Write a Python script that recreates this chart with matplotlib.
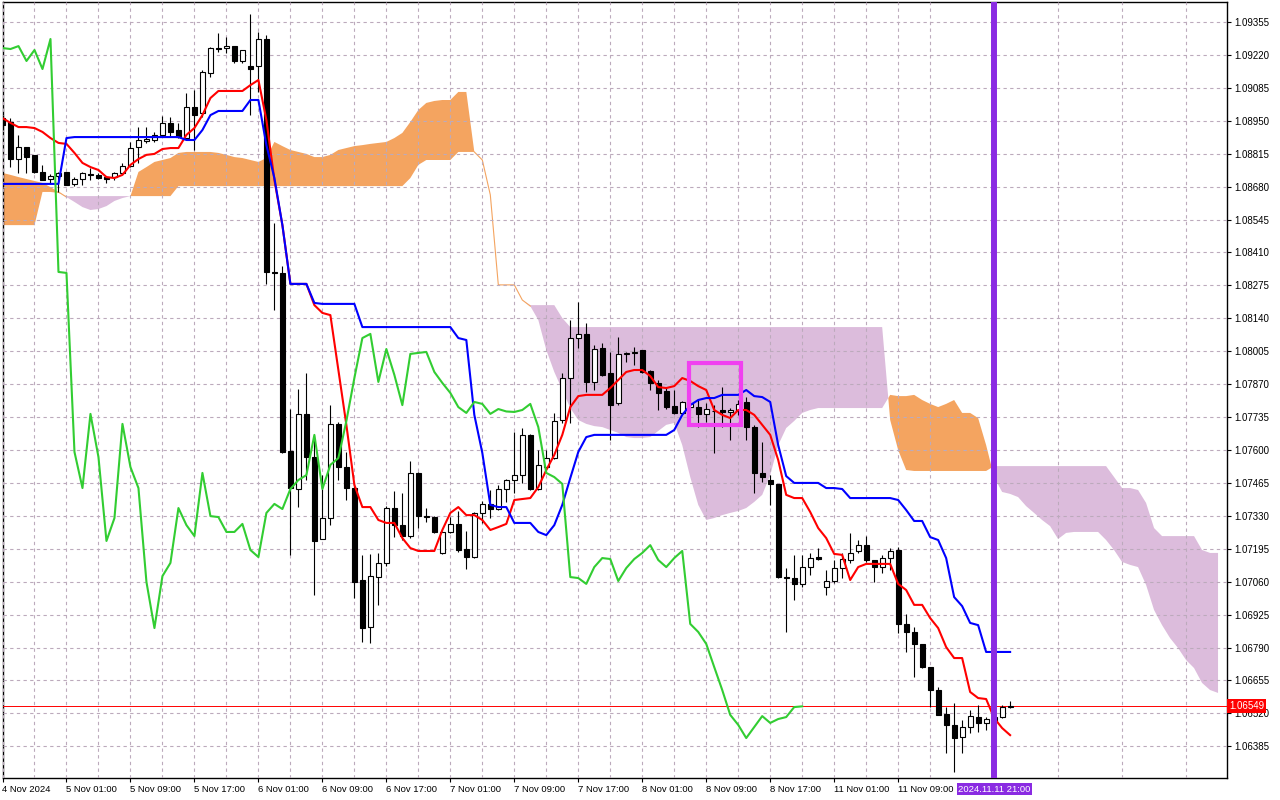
import matplotlib.pyplot as plt
import matplotlib.transforms as mtransforms
from matplotlib.patches import Rectangle
import numpy as np

plt.rcParams["font.family"] = ["Liberation Sans", "DejaVu Sans"]

# EURUSD H1, bars from 4 Nov 2024 17:00
opens = [1.08961, 1.08945, 1.08793, 1.08842, 1.08810, 1.08740, 1.08711, 1.08723, 1.08740, 1.08691,
         1.08711, 1.08732, 1.08728, 1.08719, 1.08719, 1.08736, 1.08764, 1.08842, 1.08867, 1.08871,
         1.08892, 1.08941, 1.08912, 1.08879, 1.09006, 1.08982, 1.09146, 1.09248, 1.09248, 1.09256,
         1.09195, 1.09174, 1.09174, 1.09285, 1.08330, 1.08326, 1.07596, 1.07440, 1.07748, 1.07571,
         1.07235, 1.07321, 1.07707, 1.07530, 1.07444, 1.07067, 1.06874, 1.07079, 1.07137, 1.07362,
         1.07292, 1.07247, 1.07506, 1.07329, 1.07325, 1.07178, 1.07264, 1.07297, 1.07194, 1.07161,
         1.07342, 1.07379, 1.07358, 1.07440, 1.07477, 1.07497, 1.07662, 1.07440, 1.07530, 1.07567,
         1.07723, 1.07895, 1.08059, 1.08076, 1.07879, 1.08018, 1.07916, 1.07793, 1.07994, 1.07998,
         1.08010, 1.07924, 1.07875, 1.07842, 1.07780, 1.07752, 1.07776, 1.07776, 1.07748, 1.07760,
         1.07764, 1.07756, 1.07760, 1.07797, 1.07694, 1.07506, 1.07477, 1.07461, 1.07079, 1.07075,
         1.07051, 1.07120, 1.07161, 1.07038, 1.07063, 1.07116, 1.07149, 1.07186, 1.07210, 1.07149,
         1.07120, 1.07157, 1.07190, 1.06887, 1.06854, 1.06805, 1.06710, 1.06616, 1.06518, 1.06473,
         1.06423, 1.06464, 1.06505, 1.06481, 1.06489, 1.06505, 1.06546]
highs = [1.08973, 1.08961, 1.08892, 1.08842, 1.08810, 1.08769, 1.08732, 1.08740, 1.08740, 1.08719,
         1.08740, 1.08756, 1.08736, 1.08723, 1.08740, 1.08777, 1.08863, 1.08924, 1.08924, 1.08904,
         1.08969, 1.08965, 1.08941, 1.09064, 1.09076, 1.09158, 1.09252, 1.09310, 1.09293, 1.09256,
         1.09240, 1.09388, 1.09314, 1.09301, 1.08531, 1.08354, 1.07768, 1.07850, 1.07916, 1.07657,
         1.07497, 1.07784, 1.07715, 1.07592, 1.07465, 1.07170, 1.07174, 1.07178, 1.07370, 1.07432,
         1.07424, 1.07555, 1.07510, 1.07362, 1.07329, 1.07268, 1.07325, 1.07350, 1.07268, 1.07346,
         1.07391, 1.07436, 1.07457, 1.07481, 1.07674, 1.07690, 1.07666, 1.07600, 1.07600, 1.07752,
         1.07916, 1.08133, 1.08207, 1.08121, 1.08031, 1.08039, 1.08002, 1.08063, 1.08002, 1.08022,
         1.08010, 1.07928, 1.07887, 1.07858, 1.07846, 1.07801, 1.07805, 1.07809, 1.07793, 1.07784,
         1.07858, 1.07772, 1.07805, 1.07817, 1.07703, 1.07633, 1.07497, 1.07461, 1.07116, 1.07170,
         1.07170, 1.07178, 1.07198, 1.07108, 1.07149, 1.07178, 1.07260, 1.07231, 1.07247, 1.07149,
         1.07170, 1.07198, 1.07202, 1.06928, 1.06874, 1.06805, 1.06710, 1.06628, 1.06546, 1.06563,
         1.06493, 1.06534, 1.06555, 1.06505, 1.06526, 1.06555, 1.06571]
lows = [1.08912, 1.08760, 1.08736, 1.08736, 1.08736, 1.08707, 1.08695, 1.08658, 1.08687, 1.08682,
        1.08687, 1.08707, 1.08711, 1.08695, 1.08707, 1.08736, 1.08760, 1.08777, 1.08859, 1.08863,
        1.08883, 1.08887, 1.08879, 1.08871, 1.08830, 1.08965, 1.09129, 1.09232, 1.09228, 1.09187,
        1.09187, 1.08974, 1.09068, 1.08281, 1.08174, 1.07588, 1.07170, 1.07366, 1.07477, 1.07005,
        1.07235, 1.07292, 1.07477, 1.07395, 1.06993, 1.06813, 1.06809, 1.06965, 1.07124, 1.07243,
        1.07231, 1.07239, 1.07280, 1.07305, 1.07260, 1.07174, 1.07260, 1.07182, 1.07112, 1.07157,
        1.07301, 1.07321, 1.07354, 1.07387, 1.07424, 1.07465, 1.07436, 1.07436, 1.07526, 1.07563,
        1.07711, 1.07711, 1.08018, 1.07838, 1.07846, 1.07903, 1.07641, 1.07784, 1.07961, 1.07949,
        1.07916, 1.07846, 1.07764, 1.07768, 1.07748, 1.07748, 1.07764, 1.07694, 1.07715, 1.07588,
        1.07694, 1.07641, 1.07744, 1.07641, 1.07424, 1.07469, 1.07375, 1.07075, 1.06854, 1.06985,
        1.07038, 1.07088, 1.07149, 1.07005, 1.07055, 1.07075, 1.07137, 1.07178, 1.07141, 1.07059,
        1.07096, 1.07108, 1.06850, 1.06772, 1.06669, 1.06706, 1.06546, 1.06514, 1.06358, 1.06280,
        1.06358, 1.06440, 1.06444, 1.06452, 1.06473, 1.06501, 1.06542]
closes = [1.08932, 1.08793, 1.08842, 1.08801, 1.08740, 1.08707, 1.08723, 1.08736, 1.08687, 1.08711,
          1.08736, 1.08728, 1.08715, 1.08711, 1.08736, 1.08764, 1.08838, 1.08871, 1.08875, 1.08892,
          1.08941, 1.08904, 1.08883, 1.09006, 1.08974, 1.09150, 1.09248, 1.09244, 1.09256, 1.09195,
          1.09240, 1.09162, 1.09285, 1.08330, 1.08326, 1.07592, 1.07444, 1.07748, 1.07571, 1.07227,
          1.07321, 1.07707, 1.07530, 1.07444, 1.07059, 1.06870, 1.07083, 1.07137, 1.07362, 1.07292,
          1.07247, 1.07506, 1.07329, 1.07325, 1.07264, 1.07264, 1.07297, 1.07190, 1.07161, 1.07342,
          1.07379, 1.07358, 1.07440, 1.07477, 1.07497, 1.07662, 1.07440, 1.07539, 1.07567, 1.07719,
          1.07895, 1.08059, 1.08076, 1.07879, 1.08014, 1.07908, 1.07784, 1.07994, 1.07998, 1.08002,
          1.07920, 1.07875, 1.07834, 1.07776, 1.07752, 1.07797, 1.07789, 1.07748, 1.07768, 1.07758,
          1.07756, 1.07764, 1.07789, 1.07694, 1.07506, 1.07489, 1.07461, 1.07079, 1.07075, 1.07051,
          1.07120, 1.07157, 1.07153, 1.07063, 1.07116, 1.07153, 1.07178, 1.07210, 1.07149, 1.07120,
          1.07157, 1.07186, 1.06887, 1.06854, 1.06805, 1.06710, 1.06616, 1.06514, 1.06473, 1.06419,
          1.06464, 1.06509, 1.06481, 1.06497, 1.06505, 1.06546, 1.06549]

tenkan = [1.08961, 1.08941, 1.08924, 1.08924, 1.08920, 1.08904, 1.08879, 1.08859, 1.08855, 1.08818,
          1.08777, 1.08760, 1.08748, 1.08719, 1.08715, 1.08728, 1.08769, 1.08793, 1.08810, 1.08814,
          1.08834, 1.08838, 1.08838, 1.08892, 1.08920, 1.08973, 1.09043, 1.09072, 1.09072, 1.09072,
          1.09072, 1.09096, 1.09117, 1.08953, 1.08707, 1.08522, 1.08281, 1.08281, 1.08281, 1.08194,
          1.08162, 1.08153, 1.07928, 1.07703, 1.07457, 1.07366, 1.07366, 1.07313, 1.07301, 1.07301,
          1.07239, 1.07198, 1.07186, 1.07186, 1.07186, 1.07272, 1.07342, 1.07366, 1.07333, 1.07333,
          1.07313, 1.07272, 1.07284, 1.07297, 1.07395, 1.07399, 1.07403, 1.07448, 1.07518, 1.07580,
          1.07662, 1.07776, 1.07821, 1.07826, 1.07826, 1.07826, 1.07854, 1.07887, 1.07920, 1.07928,
          1.07928, 1.07903, 1.07858, 1.07854, 1.07862, 1.07895, 1.07883, 1.07862, 1.07846, 1.07764,
          1.07744, 1.07731, 1.07764, 1.07764, 1.07744, 1.07703, 1.07662, 1.07559, 1.07416, 1.07403,
          1.07403, 1.07346, 1.07280, 1.07239, 1.07174, 1.07170, 1.07067, 1.07120, 1.07133, 1.07133,
          1.07133, 1.07133, 1.07051, 1.07026, 1.06965, 1.06965, 1.06911, 1.06870, 1.06792, 1.06747,
          1.06747, 1.06608, 1.06583, 1.06579, 1.06501, 1.06460, 1.06431]
kijun = [1.08691, 1.08691, 1.08691, 1.08691, 1.08691, 1.08691, 1.08691, 1.08691, 1.08879, 1.08883,
         1.08883, 1.08883, 1.08883, 1.08883, 1.08883, 1.08883, 1.08883, 1.08883, 1.08883, 1.08883,
         1.08883, 1.08883, 1.08883, 1.08871, 1.08871, 1.08912, 1.08973, 1.08990, 1.08990, 1.08990,
         1.08990, 1.09035, 1.09035, 1.08850, 1.08715, 1.08522, 1.08281, 1.08281, 1.08281, 1.08203,
         1.08199, 1.08199, 1.08199, 1.08199, 1.08199, 1.08104, 1.08104, 1.08104, 1.08104, 1.08104,
         1.08104, 1.08104, 1.08104, 1.08104, 1.08104, 1.08104, 1.08104, 1.08059, 1.08051, 1.07744,
         1.07588, 1.07375, 1.07366, 1.07366, 1.07301, 1.07301, 1.07301, 1.07264, 1.07251, 1.07292,
         1.07375, 1.07485, 1.07592, 1.07653, 1.07662, 1.07662, 1.07662, 1.07662, 1.07662, 1.07662,
         1.07662, 1.07662, 1.07662, 1.07662, 1.07682, 1.07744, 1.07784, 1.07805, 1.07813, 1.07813,
         1.07826, 1.07826, 1.07826, 1.07846, 1.07821, 1.07817, 1.07797, 1.07620, 1.07493, 1.07465,
         1.07465, 1.07465, 1.07465, 1.07444, 1.07444, 1.07440, 1.07403, 1.07403, 1.07403, 1.07403,
         1.07403, 1.07403, 1.07395, 1.07354, 1.07309, 1.07309, 1.07243, 1.07231, 1.07157, 1.06997,
         1.06960, 1.06891, 1.06882, 1.06772, 1.06772, 1.06772, 1.06772]

# senkou spans, 26 bars ahead of the last candle
span_a = [1.08736, 1.08728, 1.08719, 1.08711, 1.08703, 1.08695, 1.08678, 1.08658, 1.08637, 1.08617,
          1.08596, 1.08584, 1.08588, 1.08600, 1.08621, 1.08633, 1.08641, 1.08740, 1.08760, 1.08781,
          1.08789, 1.08797, 1.08818, 1.08822, 1.08822, 1.08822, 1.08822, 1.08818, 1.08810, 1.08801,
          1.08797, 1.08789, 1.08781, 1.08797, 1.08863, 1.08846, 1.08830, 1.08822, 1.08814, 1.08801,
          1.08801, 1.08810, 1.08830, 1.08838, 1.08846, 1.08850, 1.08855, 1.08859, 1.08863, 1.08879,
          1.08900, 1.08945, 1.08994, 1.09023, 1.09031, 1.09035, 1.09035, 1.09068, 1.09068, 1.08822,
          1.08789, 1.08646, 1.08277, 1.08277, 1.08277, 1.08215, 1.08190, 1.08133, 1.08010, 1.07920,
          1.07846, 1.07772, 1.07723, 1.07707, 1.07698, 1.07694, 1.07682, 1.07670, 1.07653, 1.07649,
          1.07649, 1.07653, 1.07678, 1.07703, 1.07711, 1.07620, 1.07489, 1.07375, 1.07313, 1.07321,
          1.07333, 1.07342, 1.07350, 1.07362, 1.07387, 1.07416, 1.07497, 1.07620, 1.07690, 1.07719,
          1.07752, 1.07764, 1.07772, 1.07772, 1.07772, 1.07772, 1.07772, 1.07772, 1.07772, 1.07772,
          1.07772, 1.07826, 1.07821, 1.07821, 1.07826, 1.07805, 1.07789, 1.07776, 1.07789, 1.07805,
          1.07752, 1.07752, 1.07731, 1.07620, 1.07489, 1.07428, 1.07420, 1.07407, 1.07370, 1.07342,
          1.07313, 1.07288, 1.07235, 1.07260, 1.07264, 1.07264, 1.07264, 1.07264, 1.07231, 1.07190,
          1.07141, 1.07129, 1.07120, 1.07047, 1.06944, 1.06882, 1.06829, 1.06788, 1.06739, 1.06706,
          1.06645, 1.06616, 1.06604]
span_b = [1.08522, 1.08522, 1.08522, 1.08522, 1.08522, 1.08658, 1.08658, 1.08654, 1.08641, 1.08641,
          1.08641, 1.08641, 1.08641, 1.08641, 1.08641, 1.08641, 1.08641, 1.08641, 1.08641, 1.08641,
          1.08641, 1.08641, 1.08682, 1.08682, 1.08682, 1.08682, 1.08682, 1.08682, 1.08682, 1.08682,
          1.08682, 1.08682, 1.08682, 1.08682, 1.08682, 1.08682, 1.08682, 1.08682, 1.08682, 1.08682,
          1.08682, 1.08682, 1.08682, 1.08682, 1.08682, 1.08682, 1.08682, 1.08682, 1.08682, 1.08682,
          1.08682, 1.08715, 1.08769, 1.08789, 1.08789, 1.08789, 1.08789, 1.08822, 1.08822, 1.08822,
          1.08789, 1.08646, 1.08277, 1.08277, 1.08277, 1.08215, 1.08194, 1.08194, 1.08194, 1.08194,
          1.08141, 1.08104, 1.08104, 1.08104, 1.08104, 1.08104, 1.08104, 1.08104, 1.08104, 1.08104,
          1.08104, 1.08104, 1.08104, 1.08104, 1.08104, 1.08104, 1.08104, 1.08104, 1.08104, 1.08104,
          1.08104, 1.08104, 1.08104, 1.08104, 1.08104, 1.08104, 1.08104, 1.08104, 1.08104, 1.08104,
          1.08104, 1.08104, 1.08104, 1.08104, 1.08104, 1.08104, 1.08104, 1.08104, 1.08104, 1.08104,
          1.08104, 1.07723, 1.07600, 1.07518, 1.07514, 1.07514, 1.07514, 1.07514, 1.07514, 1.07514,
          1.07514, 1.07514, 1.07514, 1.07514, 1.07534, 1.07534, 1.07534, 1.07534, 1.07534, 1.07534,
          1.07534, 1.07534, 1.07534, 1.07534, 1.07534, 1.07534, 1.07534, 1.07534, 1.07534, 1.07489,
          1.07444, 1.07444, 1.07436, 1.07383, 1.07280, 1.07247, 1.07247, 1.07247, 1.07247, 1.07247,
          1.07190, 1.07178, 1.07178]

price_ticks = [1.09355, 1.09220, 1.09085, 1.08950, 1.08815, 1.08680, 1.08545, 1.08410, 1.08275,
               1.08140, 1.08005, 1.07870, 1.07735, 1.07600, 1.07465, 1.07330, 1.07195, 1.07060,
               1.06925, 1.06790, 1.06655, 1.06520, 1.06385]
time_bars = [0, 8, 16, 24, 32, 40, 48, 56, 64, 72, 80, 88, 96, 104, 112]
time_labels = ["4 Nov 2024", "5 Nov 01:00", "5 Nov 09:00", "5 Nov 17:00", "6 Nov 01:00",
               "6 Nov 09:00", "6 Nov 17:00", "7 Nov 01:00", "7 Nov 09:00", "7 Nov 17:00",
               "8 Nov 01:00", "8 Nov 09:00", "8 Nov 17:00", "11 Nov 01:00", "11 Nov 09:00"]

cursor_bar = 124
cursor_label = "2024.11.11 21:00"
last_price = 1.06549
# highlighted box around the 8 Nov 09:00 consolidation
box_left, box_right = 85.8, 92.4
box_low, box_high = 1.07703, 1.07957

o = np.array(opens)
h = np.array(highs)
l = np.array(lows)
c = np.array(closes)
idx = np.arange(len(o))
a = np.array(span_a)
b = np.array(span_b)
cloud_idx = np.arange(len(a))
chikou = c[26:]

fig = plt.figure(figsize=(12.8, 8), dpi=100)
ax = fig.add_axes([2.5 / 1280, 22 / 800, 1224.5 / 1280, 776 / 800])
ax.set_xlim(0.06, 153.12)
ax.set_ylim(1.062552, 1.094368)

# kumo
ax.fill_between(cloud_idx, a, b, where=a >= b, interpolate=True, color="#f4a460", lw=0, zorder=1)
ax.fill_between(cloud_idx, a, b, where=a < b, interpolate=True, color="#dcbcdc", lw=0, zorder=1)
# where the two spans meet only a thin line is left
thin = np.where(np.abs(a - b) < 0.00006, a, np.nan)
ax.plot(cloud_idx, thin, color="#f4a460", lw=0.8, zorder=1.2)

# grid
ax.set_axisbelow(False)
ax.set_yticks(price_ticks)
ax.set_yticklabels([f"{p:.5f}" for p in price_ticks])
ax.set_xticks(time_bars)
ax.set_xticklabels(time_labels, ha="left")
ax.set_xticks(np.arange(4, 154, 8), minor=True)
ax.grid(True, which="both", color="#bcaabc", ls=(0, (3, 3)), lw=0.8)

ax.axhline(last_price, color="red", lw=0.7, zorder=2.8)

# candles
up = c >= o
ax.vlines(idx, l, h, color="black", lw=0.8, zorder=3)
ax.bar(idx, np.abs(c - o), bottom=np.minimum(o, c), width=0.6,
       color=np.where(up, "white", "black"), edgecolor="black", linewidth=0.8, zorder=3.1)

# ichimoku lines
ax.plot(idx, tenkan, color="red", lw=1.5, zorder=4)
ax.plot(idx, kijun, color="blue", lw=1.5, zorder=4)
ax.plot(idx[:len(chikou)], chikou, color="#32cd32", lw=1.5, zorder=4)

ax.add_patch(Rectangle((box_left, box_low), box_right - box_left, box_high - box_low,
                       fill=False, ec="#f040f0", lw=3, zorder=5))
ax.axvline(cursor_bar, color="#8a2be2", lw=4.3, zorder=6)

for s in ax.spines.values():
    s.set_color("black")
    s.set_linewidth(1)
ax.yaxis.tick_right()
ax.tick_params(axis="y", labelsize=7, length=3, pad=2, direction="out")
ax.tick_params(axis="x", which="major", labelsize=6.8, length=3, pad=2, direction="out")
ax.tick_params(axis="x", which="minor", length=0)

tr_x = mtransforms.blended_transform_factory(ax.transData, ax.transAxes)
ax.text(cursor_bar, -0.0142, cursor_label, transform=tr_x, ha="center", va="center",
        color="white", fontsize=6.8, clip_on=False, zorder=7,
        bbox=dict(boxstyle="square,pad=0.15", fc="#8a2be2", ec="none"))
tr_y = mtransforms.blended_transform_factory(ax.transAxes, ax.transData)
ax.text(1.0015, last_price, f"{last_price:.5f}", transform=tr_y, ha="left", va="center",
        color="white", fontsize=7, clip_on=False, zorder=7,
        bbox=dict(boxstyle="square,pad=0.2", fc="red", ec="none"))

fig.savefig("out.png", dpi=100)
